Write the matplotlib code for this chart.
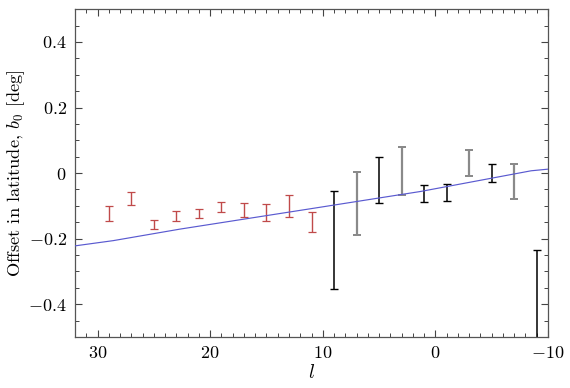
import matplotlib
matplotlib.use("Agg")
import matplotlib.pyplot as plt
import numpy as np
from matplotlib.ticker import MultipleLocator

plt.rcParams['font.family'] = 'serif'
plt.rcParams['font.serif'] = ['cmr10', 'DejaVu Serif']
plt.rcParams['mathtext.fontset'] = 'cm'
plt.rcParams['axes.formatter.use_mathtext'] = True
plt.rcParams['axes.unicode_minus'] = True

# Data
red_l = [29, 27, 25, 23, 21, 19, 17, 15, 13, 11]
red_lo = [-0.146, -0.096, -0.171, -0.147, -0.136, -0.118, -0.134, -0.146, -0.134, -0.180]
red_hi = [-0.099, -0.059, -0.144, -0.116, -0.111, -0.087, -0.091, -0.093, -0.068, -0.118]

black_l = [9, 5, 1, -1, -5, -9]
black_lo = [-0.353, -0.091, -0.088, -0.086, -0.026, -0.60]
black_hi = [-0.056, 0.049, -0.035, -0.032, 0.029, -0.236]

grey_l = [7, 3, -3, -7]
grey_lo = [-0.190, -0.068, -0.010, -0.078]
grey_hi = [0.004, 0.081, 0.069, 0.029]

line_l = [32, 28.6, 22.7, 10.2, 1.3, -8.5, -10]
line_b = [-0.222, -0.206, -0.171, -0.104, -0.056, 0.007, 0.012]

fig = plt.figure(figsize=(5.70, 3.88), dpi=100)
ax = fig.add_axes([0.1316, 0.1314, 0.8298, 0.845])

def bars(l, lo, hi, color, lw):
    l = np.asarray(l); lo = np.asarray(lo); hi = np.asarray(hi)
    mid = (lo + hi) / 2
    err = (hi - lo) / 2
    ax.errorbar(l, mid, yerr=err, fmt='none', ecolor=color, elinewidth=lw,
                capsize=2.9, capthick=lw * 0.9)

ax.plot(line_l, line_b, color='#5a5ad0', lw=0.85, zorder=3)
bars(red_l, red_lo, red_hi, '#c04a4a', 1.0)
bars(grey_l, grey_lo, grey_hi, '#8a8a8a', 1.6)
bars(black_l, black_lo, black_hi, '#000000', 1.1)

ax.set_xlim(32, -10)
ax.set_ylim(-0.5, 0.5)
ax.xaxis.set_major_locator(MultipleLocator(10))
ax.xaxis.set_minor_locator(MultipleLocator(1))
ax.yaxis.set_major_locator(MultipleLocator(0.2))
ax.yaxis.set_minor_locator(MultipleLocator(0.05))

def yfmt(v, pos):
    if abs(v) < 1e-9:
        return '$0$'
    return '$%.1f$' % v
ax.yaxis.set_major_formatter(plt.FuncFormatter(yfmt))
ax.xaxis.set_major_formatter(plt.FuncFormatter(lambda v, p: '$%d$' % round(v)))

ax.tick_params(which='both', direction='in', top=True, right=True,
               labelsize=13, color='#444444')
ax.tick_params(which='major', length=5, width=0.8, pad=6)
ax.tick_params(which='minor', length=3, width=0.7)
for s in ax.spines.values():
    s.set_color('#555555')
    s.set_linewidth(0.9)

ax.set_xlabel('$l$', fontsize=14, labelpad=2)
ax.set_ylabel('Offset in latitude, $b_0$ [deg]', fontsize=13.2, labelpad=1)

fig.savefig('out.png', dpi=100)
